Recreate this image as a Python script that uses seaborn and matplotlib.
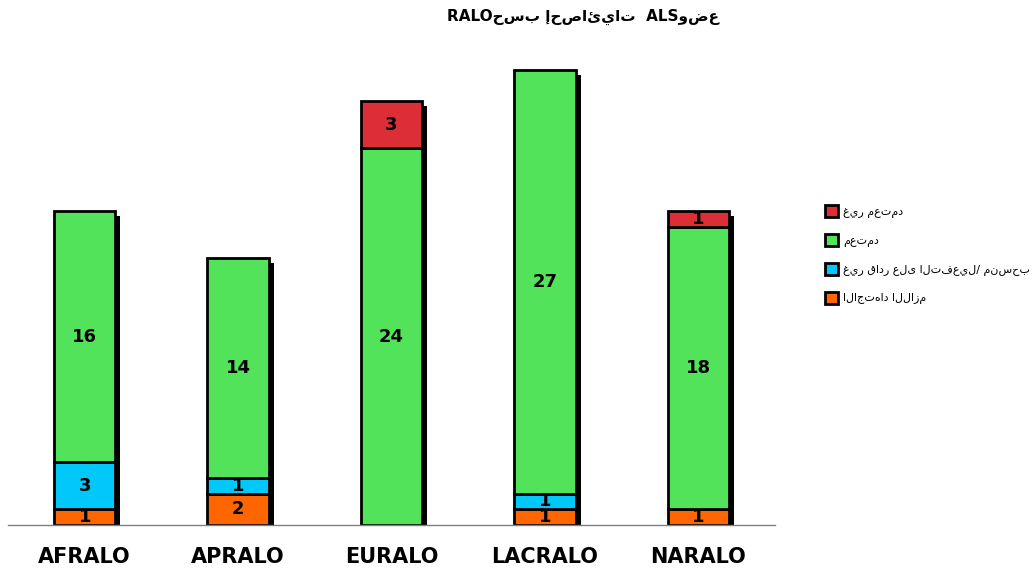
import numpy as np
import pandas as pd
import matplotlib
matplotlib.use('Agg')
import matplotlib.pyplot as plt
import matplotlib.transforms as mtransforms
from matplotlib.patches import Patch
import seaborn as sns

# Data
ralos = ['AFRALO', 'APRALO', 'EURALO', 'LACRALO', 'NARALO']
due_diligence = [1, 2, 0, 1, 1]
unable_withdrawn = [3, 1, 0, 1, 0]
certified = [16, 14, 24, 27, 18]
decertified = [0, 0, 3, 0, 1]

series_names = ['الاجتهاد اللازم', 'غير قادر على التفعيل/ منسحب', 'معتمد', 'غير معتمد']
series_colors = ['#FF6600', '#00C8F8', '#52E35A', '#DC2E36']
title_text = 'RALOحسب إحصائيات  ALSوضع'

sns.set_style('white')
plt.rcParams['font.family'] = ['DejaVu Sans']
plt.rcParams['text.color'] = 'black'
plt.rcParams['xtick.color'] = 'black'

fig = plt.figure(figsize=(10.32, 5.78), dpi=100)
ax = fig.add_axes([8 / 1032, 53 / 578, 767 / 1032, 471 / 578])

series = [due_diligence, unable_withdrawn, certified, decertified]
totals = np.sum(series, axis=0)

# shadow behind each stack, shifted right
sns.barplot(x=ralos, y=totals - 0.32, color='black', width=0.4, linewidth=0,
            saturation=1, ax=ax, zorder=1)
shift = mtransforms.ScaledTranslation(5 / 100, 0, fig.dpi_scale_trans)
for p in ax.containers[0]:
    p.set_transform(ax.transData + shift)

bottom = np.zeros(len(ralos))
for vals, name, col in zip(series, series_names, series_colors):
    sns.barplot(x=ralos, y=vals, bottom=bottom, color=col, width=0.4,
                edgecolor='black', linewidth=2, saturation=1, ax=ax, zorder=2)
    cont = ax.containers[-1]
    for p, v in zip(cont, vals):
        if v == 0:
            p.set_visible(False)
    ax.bar_label(cont, labels=[str(v) if v else '' for v in vals],
                 label_type='center', fontsize=13, fontweight='bold',
                 color='black', zorder=3)
    bottom = bottom + np.array(vals)

ax.set_xlim(-0.5, 4.5)
ax.set_ylim(0, 30)
ax.set_yticks([])
ax.set_xlabel('')
ax.set_ylabel('')
for s in ['left', 'right', 'top']:
    ax.spines[s].set_visible(False)
ax.spines['bottom'].set_color('#808080')
ax.spines['bottom'].set_linewidth(1)
ax.tick_params(axis='x', length=0, pad=16, labelsize=15)
for t in ax.get_xticklabels():
    t.set_fontweight('bold')

handles = [Patch(facecolor=c, edgecolor='black', linewidth=2) for c in series_colors]
fig.legend(handles[::-1], series_names[::-1], loc='upper left',
           bbox_to_anchor=(815 / 1032, 1 - 195 / 578), frameon=False,
           fontsize=8, handlelength=1.2, handleheight=1.3,
           handletextpad=0.4, labelspacing=1.45)

fig.text(583 / 1032, 1 - 17 / 578, title_text, ha='center', va='center',
         fontsize=11, fontweight='bold')

fig.savefig('out.png', dpi=100)
